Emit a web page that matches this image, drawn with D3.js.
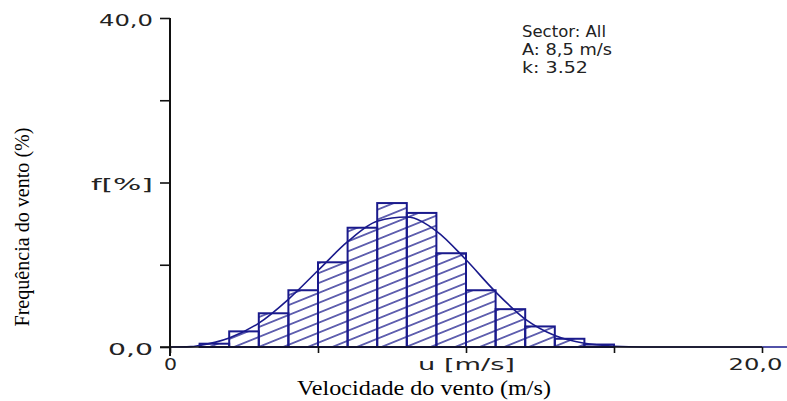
<!DOCTYPE html>
<html>
<head>
<meta charset="utf-8">
<script src="https://cdn.jsdelivr.net/npm/d3@7"></script>
<style>
  body { margin: 0; background: #fff; }
  svg { display: block; }
</style>
</head>
<body>
<div class="graph"></div>
<script>
//data
const binStart = [0, 1, 2, 3, 4, 5, 6, 7, 8, 9, 10, 11, 12, 13, 14];
const binFreq = [0, 0.4, 1.9, 4.1, 6.9, 10.3, 14.5, 17.5, 16.3, 11.4, 6.9, 4.6, 2.5, 1.0, 0.3];

const curveU = [0, 0.7, 1, 2, 3, 4, 5, 6, 7, 8, 9, 10, 11, 12, 13, 14, 15, 16, 21];
const curveF = [0, 0.05, 0.2, 1.1, 2.9, 5.8, 9.3, 12.8, 15.3, 15.8, 14.1, 10.6, 6.7, 3.4, 1.4, 0.45, 0.1, 0, 0];

const yTicks = [0, 10, 20, 30, 40];
const yTickLabels = ["0,0", "", "f[%]", "", "40,0"];
const xTicks = [0, 5, 10, 15, 20];
const xTickLabels = ["0", "", "u [m/s]", "", "20,0"];

const infoLines = ["Sector: All", "A: 8,5 m/s", "k: 3.52"];
const xTitle = "Velocidade do vento (m/s)";
const yTitle = "Frequência do vento (%)";

/*---------- SETUP ----------*/
const SIZE = {X: 787, Y: 401};
const NAVY = "#1a1a8c";
const PIXFONT = "'DejaVu Sans', sans-serif";
const SERIF = "'Liberation Serif', 'Times New Roman', serif";

const svg = d3.select(".graph").append("svg")
    .attr("width", SIZE.X)
    .attr("height", SIZE.Y);

//scales
const x = d3.scaleLinear().domain([0, 20]).range([170, 762]);
const y = d3.scaleLinear().domain([0, 40]).range([347, 18]);

//hatch pattern
svg.append("defs").append("pattern")
    .attr("id", "hatch")
    .attr("patternUnits", "userSpaceOnUse")
    .attr("width", 10)
    .attr("height", 9.2)
    .attr("patternTransform", "rotate(-22)")
  .append("line")
    .attr("x1", -1).attr("x2", 11)
    .attr("y1", 4.6).attr("y2", 4.6)
    .attr("stroke", NAVY)
    .attr("stroke-width", 1.3);

//bars
const bars = binStart.map((s, i) => ({start: s, freq: binFreq[i]})).filter(d => d.freq > 0);

svg.append("g").selectAll("rect")
    .data(bars)
    .enter()
    .append("rect")
        .attr("x", d => x(d.start))
        .attr("y", d => y(d.freq))
        .attr("width", d => x(d.start + 1) - x(d.start))
        .attr("height", d => y(0) - y(d.freq))
        .attr("fill", "url(#hatch)")
        .attr("stroke", NAVY)
        .attr("stroke-width", 2);

//weibull curve
const line = d3.line()
    .curve(d3.curveMonotoneX)
    .x(d => x(d[0]))
    .y(d => y(d[1]));

svg.append("path")
    .datum(curveU.map((u, i) => [u, curveF[i]]))
    .attr("fill", "none")
    .attr("stroke", NAVY)
    .attr("stroke-width", 1.6)
    .attr("d", line);

/*---------- AXES ----------*/
const yAxis = svg.append("g")
    .attr("transform", `translate(${x(0)},0)`)
    .call(d3.axisLeft(y)
        .tickValues(yTicks)
        .tickSize(10)
        .tickSizeOuter(0)
        .tickPadding(7)
        .tickFormat((d, i) => yTickLabels[i]));

const xAxis = svg.append("g")
    .attr("transform", `translate(0,${y(0)})`)
    .call(d3.axisBottom(x)
        .tickValues(xTicks)
        .tickSize(6)
        .tickSizeOuter(0)
        .tickPadding(6)
        .tickFormat((d, i) => xTickLabels[i]));

[yAxis, xAxis].forEach(a => {
    a.select(".domain").remove();
    a.selectAll(".tick line").attr("stroke", "#111").attr("stroke-width", 1.6);
    a.selectAll(".tick text")
        .attr("fill", "#222")
        .style("font-family", PIXFONT)
        .style("font-size", "16px");
});

yAxis.selectAll(".tick text").attr("dy", "0.45em");

//stretch the wide bitmap-like labels to the widths seen
const labelWidth = {"0,0": 45, "f[%]": 62, "40,0": 54, "0": 13, "u [m/s]": 97, "20,0": 54};
svg.selectAll(".tick text")
    .each(function() {
        const t = d3.select(this).text();
        if (labelWidth[t]) {
            d3.select(this).attr("textLength", labelWidth[t]).attr("lengthAdjust", "spacingAndGlyphs");
        }
    });
xAxis.selectAll(".tick text").filter((d, i) => i === xTicks.length - 1).attr("dx", -7);

//axis lines
svg.append("line")
    .attr("x1", x(0)).attr("x2", x(0))
    .attr("y1", y(40)).attr("y2", y(0) + 9)
    .attr("stroke", "#111").attr("stroke-width", 2);

svg.append("line")
    .attr("x1", x(0) - 10).attr("x2", x(20))
    .attr("y1", y(0)).attr("y2", y(0))
    .attr("stroke", "#111").attr("stroke-width", 1.6);

/*---------- TEXT ----------*/
const infoWidth = [84, 90, 66];
svg.append("g").selectAll("text")
    .data(infoLines)
    .enter()
    .append("text")
        .attr("x", 522)
        .attr("y", (d, i) => 37 + i * 18)
        .attr("textLength", (d, i) => infoWidth[i])
        .attr("lengthAdjust", "spacingAndGlyphs")
        .attr("fill", "#222")
        .style("font-family", PIXFONT)
        .style("font-size", "15px")
        .text(d => d);

svg.append("text")
    .attr("x", 297)
    .attr("y", 395)
    .attr("textLength", 254)
    .attr("lengthAdjust", "spacingAndGlyphs")
    .style("font-family", SERIF)
    .style("font-size", "20px")
    .text(xTitle);

svg.append("text")
    .attr("transform", "translate(29,227) rotate(-90)")
    .attr("text-anchor", "middle")
    .attr("textLength", 199)
    .attr("lengthAdjust", "spacingAndGlyphs")
    .style("font-family", SERIF)
    .style("font-size", "20px")
    .text(yTitle);
</script>
</body>
</html>
